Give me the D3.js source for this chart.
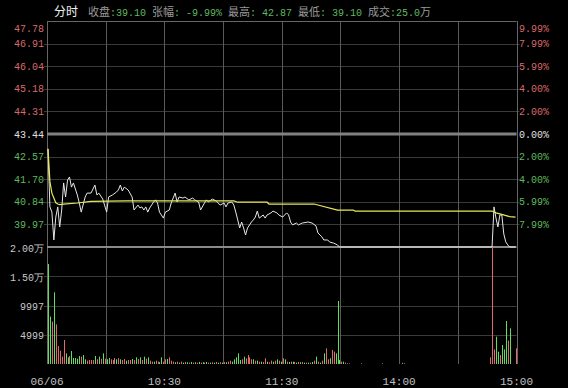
<!doctype html>
<head>
  <style>
    html, body { margin: 0; padding: 0; background: #000; }
    svg { display: block; }
    .num { font: 10px "Liberation Mono", "DejaVu Sans Mono", monospace; }
    .cjk { font-family: "Noto Sans CJK SC", sans-serif; }
  </style>
  <script src="https://cdn.jsdelivr.net/npm/d3@7"></script>
</head>
<body>
  <svg id="chart" width="568" height="388"></svg>
  <script>
    // price axis (left) and percent labels (right)
    var priceTicks = [47.78, 46.91, 46.04, 45.18, 44.31, 43.44, 42.57, 41.70, 40.84, 39.97];
    var pctLabels = ['9.99%', '7.99%', '5.99%', '4.00%', '2.00%', '0.00%', '2.00%', '4.00%', '5.99%', '7.99%'];
    var prevClose = 43.44;

    // volume axis
    var volTicks = [20000, 15000, 9997, 4999];
    var volTickLabels = ['2.00万', '1.50万', '9997', '4999'];

    // time axis, minutes from 9:30
    var timeTicks = [0, 60, 120, 180, 240];
    var timeLabels = ['06/06', '10:30', '11:30', '14:00', '15:00'];
    var gridMinutes = [30, 60, 90, 120, 150, 180, 210];

    // header
    var header = [
      ['收盘', ':39.10 '], ['张幅', ': -9.99% '], ['最高', ': 42.87 '],
      ['最低', ': 39.10 '], ['成交', ':25.0'], ['万', '']
    ];

    // price line [minute, price]
    var price = [[0,42.87],[1,40.64],[2,40.44],[3,39.37],[4,40.25],[5,40.64],[6,39.87],[7,40.52],
      [8,41.56],[9,41.02],[10,41.67],[11,41.79],[12,41.40],[13,41.56],[15,41.10],[16,40.79],[17,40.44],
      [19,41.02],[20,41.17],[22,41.17],[24,41.48],[25,41.10],[26,41.17],[28,40.94],[30,40.44],[31,41.02],
      [33,41.10],[35,41.21],[36,41.29],[37,41.48],[38,41.25],[39,41.40],[41,41.29],[43,41.02],[44,40.52],
      [46,40.71],[47,40.60],[48,40.64],[49,40.52],[50,40.64],[51,40.44],[52,40.60],[54,40.83],[55,40.91],
      [56,40.79],[57,40.44],[59,40.21],[60,40.44],[62,40.52],[63,40.79],[65,41.17],[66,40.83],[67,41.02],
      [69,40.98],[70,41.02],[72,40.91],[74,40.98],[75,40.91],[77,40.83],[78,40.52],[80,40.79],[81,40.91],
      [82,40.83],[84,40.94],[86,40.87],[88,40.71],[90,40.79],[91,40.64],[92,40.79],[94,40.83],[95,40.71],
      [96,40.44],[97,40.14],[98,39.83],[99,40.06],[100,39.83],[101,39.56],[102,39.83],[104,40.06],
      [105,40.14],[106,40.25],[107,40.48],[108,40.21],[110,40.33],[111,40.21],[112,40.33],[114,40.41],
      [115,40.48],[117,40.41],[118,40.33],[120,40.25],[122,40.41],[123,40.33],[124,40.06],[125,39.95],
      [127,40.02],[128,39.95],[130,40.02],[133,40.06],[135,40.02],[137,39.91],[138,39.64],[140,39.49],
      [141,39.37],[143,39.37],[144,39.29],[146,39.25],[148,39.18],[149,39.10],[227,39.10],[228,40.64],
      [229,40.21],[230,39.87],[231,40.33],[232,40.33],[233,39.60],[234,39.30],[235,39.18],[236,39.10],
      [239,39.10]];

    // average price line [minute, price]
    var avgPrice = [[0,42.87],[1,41.60],[2,41.17],[3,40.98],[4,40.80],[5,40.75],[6,40.73],[8,40.75],
      [15,40.79],[22,40.85],[40,40.87],[95,40.87],[97,40.82],[112,40.82],[113,40.75],[136,40.75],
      [148,40.52],[156,40.52],[157,40.48],[227,40.48],[229,40.41],[231,40.37],[236,40.27],[239,40.25]];

    // volume per minute
    var volume = [
      17100,8100,7240,12260,6780,3080,2280,1250,4100,1820,
      1140,1370,2220,1030,1030,910,1370,1250,1540,800,
      570,680,680,680,1370,800,1250,910,1820,910,
      800,1030,800,680,1030,800,1000,800,680,850,
      570,680,680,850,680,1140,850,1140,680,1250,
      910,1140,570,400,400,570,400,300,1140,400,
      800,850,1140,570,400,300,400,230,400,230,
      350,300,230,350,230,300,230,350,230,300,
      230,350,230,230,300,230,350,230,300,230,
      350,300,400,570,400,800,1140,1820,680,800,
      1250,970,1540,1140,800,800,570,570,400,400,
      350,970,400,300,570,400,570,800,570,400,
      970,800,400,350,400,400,350,230,350,300,
      350,230,230,230,230,350,570,1250,400,230,
      570,1820,2680,800,970,2390,2110,1820,10770,680,
      400,400,230,100,100,0,0,0,0,0,
      100,0,0,0,0,0,0,0,0,0,
      0,100,0,0,0,0,0,0,0,0,
      0,200,100,0,0,0,0,0,0,0,
      0,0,0,0,0,0,0,0,0,0,
      0,0,0,0,0,0,0,0,0,0,
      0,0,0,0,0,0,0,0,0,0,
      0,0,0,0,0,0,1150,20000,2500,4670,
      2100,1540,3250,2500,7350,4000,6100,0,0,2680];
    // r = up minute, g = down minute
    var volDir = 'ggrgrrrrrg' + 'grgggggrgg' + 'rrrrgrgrgr' + 'ggrrrgrgrr' + 'grrgrgrgrg' +
      'rgrrgrrggr' + 'rgrrrgrgrg' + 'rgrgrgrgrg' + 'rgrgrgrgrg' + 'rgrrgggggr' +
      'grrrrgrgrg' + 'rrgrrgrgrg' + 'rgrgrgrgrg' + 'rgrgrgrgrg' + 'rgrrgrrggg' +
      'rgrgrggggg' + 'gggggggggg' + 'gggggggggg' + 'grgggggggg' + 'gggggggggg' +
      'gggggggggg' + 'gggggggggg' + 'ggggggrrrg' + 'grgggrgggr';

    var RED = '#d86a6a', GREEN = '#5fb85f';
    var svg = d3.select('#chart');
    svg.append('rect').attr('width', 568).attr('height', 388).attr('fill', '#000');

    var x = d3.scaleLinear().domain([0, 240]).range([47, 516.5]);
    var yP = d3.scaleLinear().domain([39.10, 47.78]).range([247, 21]);
    var yV = d3.scaleLinear().domain([0, 20000]).range([364, 247]);
    var crisp = function(v) { return Math.round(v) + 0.5; };

    // grid: horizontal price lines
    svg.append('g').selectAll('line')
        .data(priceTicks.filter(function(d) { return d !== prevClose && d !== 47.78; }))
        .enter().append('line')
        .attr('x1', x(0) - 3).attr('x2', x(240) + 3)
        .attr('y1', function(d) { return crisp(yP(d)); })
        .attr('y2', function(d) { return crisp(yP(d)); })
        .attr('stroke', '#3a3a3a');

    // grid: volume lines
    svg.append('g').selectAll('line')
        .data(volTicks.slice(1))
        .enter().append('line')
        .attr('x1', x(0) - 3).attr('x2', x(240))
        .attr('y1', function(d) { return crisp(yV(d)); })
        .attr('y2', function(d) { return crisp(yV(d)); })
        .attr('stroke', '#3a3a3a');

    // grid: vertical time lines
    svg.append('g').selectAll('line')
        .data(gridMinutes)
        .enter().append('line')
        .attr('x1', function(d) { return crisp(x(d)); })
        .attr('x2', function(d) { return crisp(x(d)); })
        .attr('y1', yP(47.78)).attr('y2', yV(0))
        .attr('stroke', '#5a5a5a');

    // frame
    svg.append('line').attr('x1', x(0)).attr('x2', x(240)).attr('y1', crisp(yP(47.78)) ).attr('y2', crisp(yP(47.78)))
        .attr('stroke', '#666');
    svg.append('line').attr('x1', crisp(x(0))).attr('x2', crisp(x(0))).attr('y1', yP(47.78)).attr('y2', yV(0))
        .attr('stroke', '#666');
    svg.append('line').attr('x1', crisp(x(240))).attr('x2', crisp(x(240))).attr('y1', yP(47.78)).attr('y2', yV(0))
        .attr('stroke', '#666');
    svg.append('line').attr('x1', x(0)).attr('x2', x(240)).attr('y1', yP(prevClose)).attr('y2', yP(prevClose))
        .attr('stroke', '#808080').attr('stroke-width', 3);
    svg.append('line').attr('x1', x(0)).attr('x2', x(240)).attr('y1', yV(20000)).attr('y2', yV(20000))
        .attr('stroke', '#8a8a8a').attr('stroke-width', 2);

    // volume bars
    svg.append('g').selectAll('line')
        .data(volume.map(function(v, i) { return [i, v]; }).filter(function(d) { return d[1] > 0; }))
        .enter().append('line')
        .attr('x1', function(d) { return crisp(x(d[0] + 0.5)); })
        .attr('x2', function(d) { return crisp(x(d[0] + 0.5)); })
        .attr('y1', yV(0))
        .attr('y2', function(d) { return yV(d[1]); })
        .attr('stroke', function(d) { return volDir[d[0]] === 'r' ? '#e06a6a' : '#5ee05e'; });

    // avg and price lines
    var line = d3.line()
        .x(function(d) { return x(d[0] + 0.5); })
        .y(function(d) { return yP(d[1]); });
    svg.append('path').datum(price).attr('d', line)
        .attr('fill', 'none').attr('stroke', '#e6e6e6').attr('stroke-width', 1);
    svg.append('path').datum(avgPrice).attr('d', line)
        .attr('fill', 'none').attr('stroke', '#e8e85a').attr('stroke-width', 1.2);

    // left price labels
    var labColor = function(d) { return d > prevClose ? RED : (d < prevClose ? GREEN : '#e0e0e0'); };
    svg.append('g').selectAll('text')
        .data(priceTicks)
        .enter().append('text')
        .attr('class', 'num')
        .attr('x', 44)
        .attr('y', function(d) { return Math.max(yP(d), 28); })
        .attr('dy', '0.35em')
        .attr('text-anchor', 'end')
        .attr('fill', labColor)
        .text(function(d) { return d.toFixed(2); });

    // right percent labels
    svg.append('g').selectAll('text')
        .data(priceTicks)
        .enter().append('text')
        .attr('class', 'num')
        .attr('x', 519)
        .attr('y', function(d) { return Math.max(yP(d), 28); })
        .attr('dy', '0.35em')
        .attr('fill', labColor)
        .text(function(d, i) { return pctLabels[i]; });

    // volume labels
    svg.append('g').selectAll('text')
        .data(volTicks)
        .enter().append('text')
        .attr('class', 'num')
        .attr('x', 44)
        .attr('y', function(d) { return yV(d) + 1; })
        .attr('dy', '0.35em')
        .attr('text-anchor', 'end')
        .attr('fill', '#c8c8c8')
        .text(function(d, i) { return volTickLabels[i]; });

    // time labels
    svg.append('g').selectAll('text')
        .data(timeTicks)
        .enter().append('text')
        .attr('class', 'num')
        .attr('x', function(d) { return x(d); })
        .attr('y', 381)
        .attr('dy', '0.35em')
        .attr('text-anchor', 'middle')
        .attr('fill', '#c0c0c0')
        .style('font-size', '11px')
        .text(function(d, i) { return timeLabels[i]; });

    // header
    svg.append('text').attr('class', 'cjk')
        .attr('x', 54).attr('y', 16)
        .attr('fill', '#f0f0f0').style('font-size', '12px')
        .text('分时');
    var ht = svg.append('text').attr('x', 88).attr('y', 16);
    header.forEach(function(h) {
      ht.append('tspan').attr('class', 'cjk').style('font-size', '11px')
          .attr('fill', '#9a9a9a').text(h[0]);
      if (h[1]) ht.append('tspan').attr('class', 'num')
          .attr('fill', h[1].indexOf(':') === 0 ? GREEN : '#9a9a9a')
          .text(h[1]);
    });
  </script>
</body>
